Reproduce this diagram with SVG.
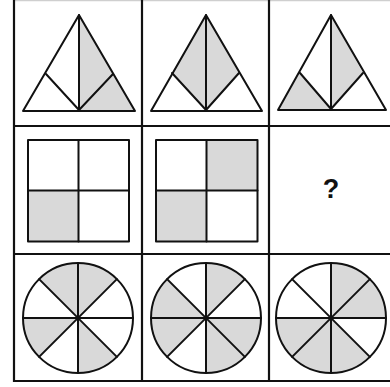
<svg xmlns="http://www.w3.org/2000/svg" xmlns:xlink="http://www.w3.org/1999/xlink" width="390" height="387" viewBox="0 0 390 387">
<style>
.ln{stroke:#111;stroke-width:2;fill:none;stroke-linejoin:round;stroke-linecap:round}
.gr{stroke:#111;stroke-width:2.2;fill:none}
.sh{fill:#d9d9d9;stroke:none}
.q{font-family:"Liberation Sans",Arial,sans-serif;font-weight:bold;font-size:27px;fill:#111}
</style>
<defs>
<path id="sec" d="M0 0 L0 -55 A55 55 0 0 1 38.89 -38.89 Z"/>
<g id="spokes">
<line x1="0" y1="-55" x2="0" y2="55"/>
<line x1="-55" y1="0" x2="55" y2="0"/>
<line x1="-38.89" y1="-38.89" x2="38.89" y2="38.89"/>
<line x1="-38.89" y1="38.89" x2="38.89" y2="-38.89"/>
<circle cx="0" cy="0" r="55"/>
</g>
</defs>
<rect width="390" height="387" fill="#fff"/>
<g id="grid">
<line x1="14" y1="0.5" x2="390" y2="0.5" stroke="#cfcfcf" stroke-width="1.5"/>
<line class="gr" x1="14" y1="0" x2="14" y2="382"/>
<line class="gr" x1="142" y1="0" x2="142" y2="382"/>
<line class="gr" x1="269" y1="0" x2="269" y2="382"/>
<line class="gr" x1="13" y1="126" x2="390" y2="126"/>
<line class="gr" x1="13" y1="254" x2="390" y2="254"/>
<line class="gr" x1="13" y1="381" x2="390" y2="381"/>
</g>
<g id="tri1">
<polygon class="sh" points="79,15 79,111 113,74"/>
<polygon class="sh" points="113,74 79,111 135,111"/>
<polygon class="ln" points="79,15 23,111 135,111"/>
<polyline class="ln" points="46,74 79,110 113,74"/>
<line class="ln" x1="79" y1="15" x2="79" y2="111"/>
</g>
<g id="tri2">
<polygon class="sh" points="206,15 172,73 206,111"/>
<polygon class="sh" points="206,15 206,111 239,73"/>
<polygon class="ln" points="206,15 151,111 262,111"/>
<polyline class="ln" points="172,73 206,110 239,73"/>
<line class="ln" x1="206" y1="15" x2="206" y2="111"/>
</g>
<g id="tri3">
<polygon class="sh" points="300,73 278,110 331,110"/>
<polygon class="sh" points="331,15 331,110 363,73"/>
<polygon class="ln" points="331,15 278,110 386,110"/>
<polyline class="ln" points="300,73 331,109 363,73"/>
<line class="ln" x1="331" y1="15" x2="331" y2="110"/>
</g>
<g id="sq1">
<rect class="sh" x="28" y="190.5" width="50.5" height="51"/>
<rect class="ln" x="28" y="140" width="101" height="101.5"/>
<line class="ln" x1="78.5" y1="140" x2="78.5" y2="241.5"/>
<line class="ln" x1="28" y1="190.5" x2="129" y2="190.5"/>
</g>
<g id="sq2">
<rect class="sh" x="156" y="190.5" width="50.5" height="51"/>
<rect class="sh" x="206.5" y="140" width="51" height="50.5"/>
<rect class="ln" x="156" y="140" width="101.5" height="101.5"/>
<line class="ln" x1="206.5" y1="140" x2="206.5" y2="241.5"/>
<line class="ln" x1="156" y1="190.5" x2="257.5" y2="190.5"/>
</g>
<g id="qmark">
<text class="q" x="331" y="198" text-anchor="middle">?</text>
</g>
<g id="circ1" transform="translate(78 318)">
<use xlink:href="#sec" class="sh"/>
<use xlink:href="#sec" class="sh" transform="rotate(135)"/>
<use xlink:href="#sec" class="sh" transform="rotate(225)"/>
<use xlink:href="#sec" class="sh" transform="rotate(315)"/>
<use xlink:href="#spokes" class="ln"/>
</g>
<g id="circ2" transform="translate(206 318)">
<use xlink:href="#sec" class="sh"/>
<use xlink:href="#sec" class="sh" transform="rotate(90)"/>
<use xlink:href="#sec" class="sh" transform="rotate(135)"/>
<use xlink:href="#sec" class="sh" transform="rotate(225)"/>
<use xlink:href="#sec" class="sh" transform="rotate(270)"/>
<use xlink:href="#spokes" class="ln"/>
</g>
<g id="circ3" transform="translate(331 318)">
<use xlink:href="#sec" class="sh"/>
<use xlink:href="#sec" class="sh" transform="rotate(45)"/>
<use xlink:href="#sec" class="sh" transform="rotate(135)"/>
<use xlink:href="#sec" class="sh" transform="rotate(180)"/>
<use xlink:href="#sec" class="sh" transform="rotate(225)"/>
<use xlink:href="#spokes" class="ln"/>
</g>
</svg>
